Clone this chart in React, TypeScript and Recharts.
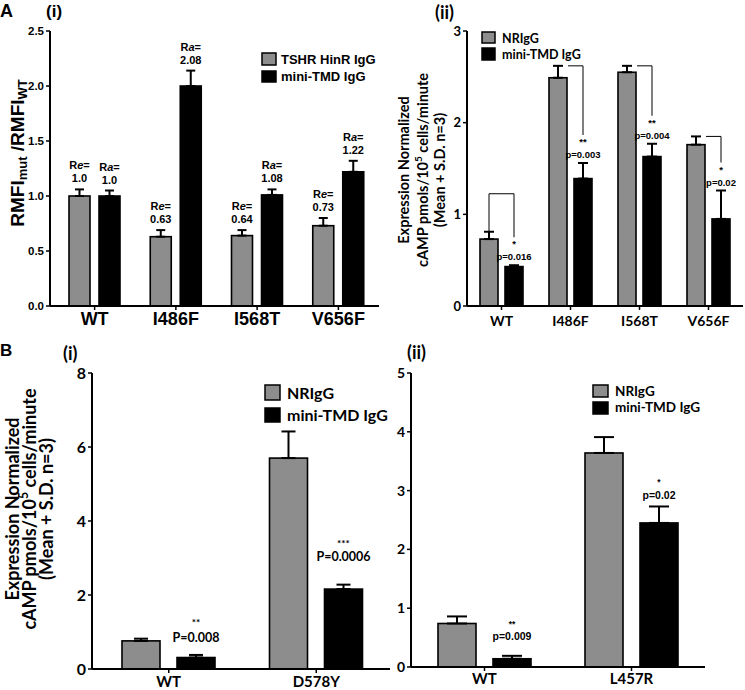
import React from "react";
import { BarChart, Bar, XAxis, YAxis, ErrorBar } from "recharts";

// A (i) - expression ratios
const aCats = ["WT", "I486F", "I568T", "V656F"];
const aHinR = [1.0, 0.63, 0.64, 0.73];
const aHinRSd = [0.06, 0.06, 0.05, 0.07];
const aMini = [1.0, 2.0, 1.01, 1.22];
const aMiniSd = [0.05, 0.14, 0.05, 0.1];
const aReLabels = ["1.0", "0.63", "0.64", "0.73"];
const aRaLabels = ["1.0", "2.08", "1.08", "1.22"];
const aTicks = [0, 0.5, 1, 1.5, 2, 2.5];

// A (ii) - cAMP
const a2NR = [0.73, 2.49, 2.55, 1.76];
const a2NRSd = [0.08, 0.13, 0.07, 0.09];
const a2Mini = [0.43, 1.39, 1.63, 0.95];
const a2MiniSd = [0.015, 0.17, 0.14, 0.31];
const a2Stars = ["*", "**", "**", "*"];
const a2P = ["p=0.016", "p=0.003", "p=0.004", "p=0.02"];
const a2Ticks = [0, 1, 2, 3];

// B (i)
const b1Cats = ["WT", "D578Y"];
const b1NR = [0.76, 5.7];
const b1NRSd = [0.06, 0.72];
const b1Mini = [0.31, 2.16];
const b1MiniSd = [0.07, 0.12];
const b1Stars = ["**", "***"];
const b1P = ["P=0.008", "P=0.0006"];
const b1Ticks = [0, 2, 4, 6, 8];

// B (ii)
const b2Cats = ["WT", "L457R"];
const b2NR = [0.74, 3.64];
const b2NRSd = [0.12, 0.27];
const b2Mini = [0.14, 2.45];
const b2MiniSd = [0.05, 0.28];
const b2Stars = ["**", "*"];
const b2P = ["p=0.009", "p=0.02"];
const b2Ticks = [0, 1, 2, 3, 4, 5];

// how far (px) the hand-placed significance labels sit above each error cap
const b1PLift = [13, 24];
const b1SLift = [29, 38];
const b2PLift = [16, 7];
const b2SLift = [29, 21];

const GREY = "#8d8d8d";
const ARIAL = "Liberation Sans, Arial, sans-serif";
const CAL = "Lato, sans-serif";

const rows = (cats: string[], g: number[], gSd: number[], k: number[], kSd: number[]) =>
  cats.map((name, i) => ({
    name,
    grey: g[i],
    greyErr: [0, gSd[i]],
    black: k[i],
    blackErr: [0, kSd[i]],
  }));

const aData = rows(aCats, aHinR, aHinRSd, aMini, aMiniSd);
const a2Data = rows(aCats, a2NR, a2NRSd, a2Mini, a2MiniSd);
const b1Data = rows(b1Cats, b1NR, b1NRSd, b1Mini, b1MiniSd);
const b2Data = rows(b2Cats, b2NR, b2NRSd, b2Mini, b2MiniSd);

const Box = ({ p, fill }: { p: any; fill: string }) => (
  <rect x={p.x} y={p.y} width={p.width} height={p.height} fill={fill} stroke="#000" strokeWidth={1.6} />
);

// pixel y of value + sd, using the bar's own pixels per unit
const errTop = (p: any, v: number, sd: number) => p.y - (sd * p.height) / v;

const annA = { fontFamily: ARIAL, fontWeight: 700, fontSize: 11, fill: "#000" };
const annP = { fontFamily: ARIAL, fontWeight: 700, fontSize: 9.5, fill: "#000" };

const ratioShape =
  (vals: number[], sds: number[], labels: string[], letter: string, fill: string) => (p: any) => {
    const top = errTop(p, vals[p.index], sds[p.index]);
    const cx = p.x + p.width / 2;
    return (
      <g>
        <Box p={p} fill={fill} />
        <text x={cx} y={top - 20} textAnchor="middle" style={annA}>
          R<tspan fontStyle="italic">{letter}</tspan>=
        </text>
        <text x={cx} y={top - 7} textAnchor="middle" style={annA}>
          {labels[p.index]}
        </text>
      </g>
    );
  };

const plainShape = (fill: string) => (p: any) => <Box p={p} fill={fill} />;

const A2_GAP = 7;
const a2MiniShape = (p: any) => {
  const i = p.index;
  const k = p.height / a2Mini[i];
  const base = p.y + p.height;
  const top = errTop(p, a2Mini[i], a2MiniSd[i]);
  const greyTop = base - (a2NR[i] + a2NRSd[i]) * k;
  const greyX = p.x - A2_GAP - p.width;
  const gcx = greyX + p.width / 2;
  const cx = p.x + p.width / 2;
  const bottom = top - 28;
  const path =
    i === 0
      ? `M${gcx},${greyTop} V${greyTop - 38} H${cx} V${bottom}`
      : `M${greyX + p.width + 1},${greyTop} H${cx} V${bottom}`;
  return (
    <g>
      <Box p={p} fill="#000" />
      <path d={path} fill="none" stroke="#000" strokeWidth={1} />
      <text x={cx} y={top - 18} textAnchor="middle" style={annP}>
        {a2Stars[i]}
      </text>
      <text x={cx} y={top - 5} textAnchor="middle" style={annP}>
        {a2P[i]}
      </text>
    </g>
  );
};

const sigShape =
  (vals: number[], sds: number[], stars: string[], ps: string[], style: any, pLift: number[], sLift: number[]) =>
  (p: any) => {
    const i = p.index;
    const top = errTop(p, vals[i], sds[i]);
    const cx = p.x + p.width / 2;
    return (
      <g>
        <Box p={p} fill="#000" />
        <text x={cx} y={top - sLift[i]} textAnchor="middle" style={{ ...style, fontSize: style.fontSize * 0.8 }}>
          {stars[i]}
        </text>
        <text x={cx} y={top - pLift[i]} textAnchor="middle" style={style}>
          {ps[i]}
        </text>
      </g>
    );
  };

const axisLine = { stroke: "#000", strokeWidth: 2 };
const tickLine = { stroke: "#000", strokeWidth: 1.5 };

const frame = (domain: number[]) => [
  <XAxis key="ft" xAxisId="t" orientation="top" dataKey="name" tick={false} tickLine={false} height={0} axisLine={axisLine} />,
  <YAxis key="fr" yAxisId="r" orientation="right" tick={false} tickLine={false} width={0} domain={domain} axisLine={axisLine} />,
];

const abs = (left: number, top: number): React.CSSProperties => ({ position: "absolute", left, top });

export default function App() {
  return (
    <div style={{ position: "relative", width: 745, height: 690, background: "#fff", overflow: "hidden" }}>
      <style>{`body{margin:0}`}</style>

      {/* A (i) */}
      <div style={abs(0, 0)}>
        <BarChart width={384} height={335} data={aData} margin={{ top: 31, right: 5, left: 10, bottom: 0 }} barSize={21} barGap={9}>
          {frame([0, 2.5])}
          <XAxis
            dataKey="name"
            height={29}
            padding={{ left: 4, right: 0 }}
            axisLine={axisLine}
            tickLine={tickLine}
            tickSize={4}
            tickMargin={2}
            tick={{ fontSize: 18, fontWeight: 700, fill: "#000", fontFamily: ARIAL }}
          />
          <YAxis
            width={40}
            domain={[0, 2.5]}
            ticks={aTicks}
            tickFormatter={(v: number) => v.toFixed(1)}
            axisLine={axisLine}
            tickLine={tickLine}
            tickSize={4}
            tick={{ fontSize: 11.5, fontWeight: 700, fill: "#000", fontFamily: ARIAL }}
          />
          <Bar dataKey="grey" isAnimationActive={false} shape={ratioShape(aHinR, aHinRSd, aReLabels, "e", GREY)}>
            <ErrorBar dataKey="greyErr" direction="y" width={4.5} stroke="#000" strokeWidth={2} />
          </Bar>
          <Bar dataKey="black" isAnimationActive={false} shape={ratioShape(aMini, aMiniSd, aRaLabels, "a", "#000")}>
            <ErrorBar dataKey="blackErr" direction="y" width={4.5} stroke="#000" strokeWidth={2} />
          </Bar>
        </BarChart>
      </div>

      {/* A (ii) */}
      <div style={abs(440, 0)}>
        <BarChart width={305} height={332} data={a2Data} margin={{ top: 31, right: 2, left: 5, bottom: 0 }} barSize={18} barGap={A2_GAP}>
          {frame([0, 3])}
          <XAxis
            dataKey="name"
            height={26}
            axisLine={axisLine}
            tickLine={tickLine}
            tickSize={4}
            tickMargin={6}
            tick={{ fontSize: 14, fontWeight: 700, fill: "#000", fontFamily: CAL }}
          />
          <YAxis
            width={22}
            domain={[0, 3]}
            ticks={a2Ticks}
            axisLine={axisLine}
            tickLine={tickLine}
            tickSize={4}
            tick={{ fontSize: 13, fontWeight: 700, fill: "#000", fontFamily: CAL }}
          />
          <Bar dataKey="grey" isAnimationActive={false} shape={plainShape(GREY)}>
            <ErrorBar dataKey="greyErr" direction="y" width={5} stroke="#000" strokeWidth={2} />
          </Bar>
          <Bar dataKey="black" isAnimationActive={false} shape={a2MiniShape}>
            <ErrorBar dataKey="blackErr" direction="y" width={5} stroke="#000" strokeWidth={2} />
          </Bar>
        </BarChart>
      </div>

      {/* B (i) */}
      <div style={abs(60, 340)}>
        <BarChart width={335} height={350} data={b1Data} margin={{ top: 33, right: 5, left: 10, bottom: 0 }} barSize={38} barGap={17}>
          {frame([0, 8])}
          <XAxis
            dataKey="name"
            height={21}
            padding={{ left: 3, right: 0 }}
            axisLine={axisLine}
            tickLine={tickLine}
            tickSize={4}
            tickMargin={3}
            tick={{ fontSize: 15, fontWeight: 700, fill: "#000", fontFamily: CAL }}
          />
          <YAxis
            width={22}
            domain={[0, 8]}
            ticks={b1Ticks}
            axisLine={axisLine}
            tickLine={tickLine}
            tickSize={4}
            tick={{ fontSize: 16, fontWeight: 700, fill: "#000", fontFamily: CAL }}
          />
          <Bar dataKey="grey" isAnimationActive={false} shape={plainShape(GREY)}>
            <ErrorBar dataKey="greyErr" direction="y" width={7} stroke="#000" strokeWidth={2} />
          </Bar>
          <Bar
            dataKey="black"
            isAnimationActive={false}
            shape={sigShape(b1Mini, b1MiniSd, b1Stars, b1P, { fontFamily: CAL, fontWeight: 700, fontSize: 12.5, fill: "#000" }, b1PLift, b1SLift)}
          >
            <ErrorBar dataKey="blackErr" direction="y" width={7} stroke="#000" strokeWidth={2} />
          </Bar>
        </BarChart>
      </div>

      {/* B (ii) */}
      <div style={abs(385, 340)}>
        <BarChart width={325} height={350} data={b2Data} margin={{ top: 33, right: 5, left: 6, bottom: 0 }} barSize={38} barGap={17}>
          {frame([0, 5])}
          <XAxis
            dataKey="name"
            height={23}
            axisLine={axisLine}
            tickLine={tickLine}
            tickSize={4}
            tickMargin={2}
            tick={{ fontSize: 15, fontWeight: 700, fill: "#000", fontFamily: CAL }}
          />
          <YAxis
            width={20}
            domain={[0, 5]}
            ticks={b2Ticks}
            axisLine={axisLine}
            tickLine={tickLine}
            tickSize={4}
            tick={{ fontSize: 14, fontWeight: 700, fill: "#000", fontFamily: CAL }}
          />
          <Bar dataKey="grey" isAnimationActive={false} shape={plainShape(GREY)}>
            <ErrorBar dataKey="greyErr" direction="y" width={10} stroke="#000" strokeWidth={2} />
          </Bar>
          <Bar
            dataKey="black"
            isAnimationActive={false}
            shape={sigShape(b2Mini, b2MiniSd, b2Stars, b2P, { fontFamily: ARIAL, fontWeight: 700, fontSize: 10.5, fill: "#000" }, b2PLift, b2SLift)}
          >
            <ErrorBar dataKey="blackErr" direction="y" width={10} stroke="#000" strokeWidth={2} />
          </Bar>
        </BarChart>
      </div>

      {/* titles, axis titles, legends */}
      <svg width={745} height={690} style={{ position: "absolute", left: 0, top: 0, pointerEvents: "none" }}>
        <g fontWeight={700} fill="#000">
          <text x={0} y={17} fontSize={18} fontFamily={ARIAL}>A</text>
          <text x={46} y={17} fontSize={17} fontFamily={ARIAL}>(i)</text>
          <text x={435} y={19} fontSize={18} fontFamily={CAL}>(ii)</text>
          <text x={0} y={356} fontSize={17} fontFamily={ARIAL}>B</text>
          <text x={63} y={360} fontSize={18} fontFamily={CAL}>(i)</text>
          <text x={407} y={359} fontSize={18} fontFamily={CAL}>(ii)</text>

          <text transform="translate(24,153) rotate(-90)" textAnchor="middle" fontSize={19} fontFamily={ARIAL}>
            RMFI<tspan fontSize={13} dy={3}>mut</tspan>
            <tspan fontSize={19} dy={-3}> /RMFI</tspan>
            <tspan fontSize={13} dy={3}>WT</tspan>
          </text>

          <g fontFamily={CAL} fontSize={14.5} textAnchor="middle">
            <text transform="translate(409,170) rotate(-90)">Expression Normalized</text>
            <text transform="translate(428,170) rotate(-90)">
              cAMP pmols/10<tspan fontSize={10} dy={-6}>5</tspan>
              <tspan dy={6}> cells/minute</tspan>
            </text>
            <text transform="translate(445,170) rotate(-90)">(Mean + S.D. n=3)</text>
          </g>

          <g fontFamily={CAL} fontSize={18} textAnchor="middle">
            <text transform="translate(19,509) rotate(-90)">Expression Normalized</text>
            <text transform="translate(36,509) rotate(-90)">
              cAMP pmols/10<tspan fontSize={12.5} dy={-8}>5</tspan>
              <tspan dy={8}> cells/minute</tspan>
            </text>
            <text transform="translate(53,509) rotate(-90)">(Mean + S.D. n=3)</text>
          </g>

          {/* legends */}
          <rect x={262} y={53} width={14} height={12} fill={GREY} stroke="#000" strokeWidth={1.5} />
          <rect x={262} y={71} width={14} height={11} fill="#000" stroke="#000" strokeWidth={1.5} />
          <text x={281} y={63.5} fontSize={13} fontFamily={ARIAL}>TSHR HinR IgG</text>
          <text x={281} y={81} fontSize={13} fontFamily={ARIAL}>mini-TMD IgG</text>

          <rect x={482} y={32} width={13} height={11} fill={GREY} stroke="#000" strokeWidth={1.5} />
          <rect x={482} y={48} width={13} height={12} fill="#000" stroke="#000" strokeWidth={1.5} />
          <text x={502} y={43} fontSize={12.5} fontFamily={CAL}>NRIgG</text>
          <text x={502} y={59} fontSize={12.5} fontFamily={CAL}>mini-TMD IgG</text>

          <rect x={265} y={385} width={15} height={15} fill={GREY} stroke="#000" strokeWidth={1.5} />
          <rect x={265} y={408} width={15} height={14} fill="#000" stroke="#000" strokeWidth={1.5} />
          <text x={287} y={399} fontSize={16} fontFamily={CAL}>NRIgG</text>
          <text x={287} y={421} fontSize={16} fontFamily={CAL}>mini-TMD IgG</text>

          <rect x={593} y={385} width={15} height={12} fill={GREY} stroke="#000" strokeWidth={1.5} />
          <rect x={593} y={402} width={15} height={12} fill="#000" stroke="#000" strokeWidth={1.5} />
          <text x={615} y={396} fontSize={13.5} fontFamily={CAL}>NRIgG</text>
          <text x={615} y={412} fontSize={13.5} fontFamily={CAL}>mini-TMD IgG</text>
        </g>
      </svg>
    </div>
  );
}
